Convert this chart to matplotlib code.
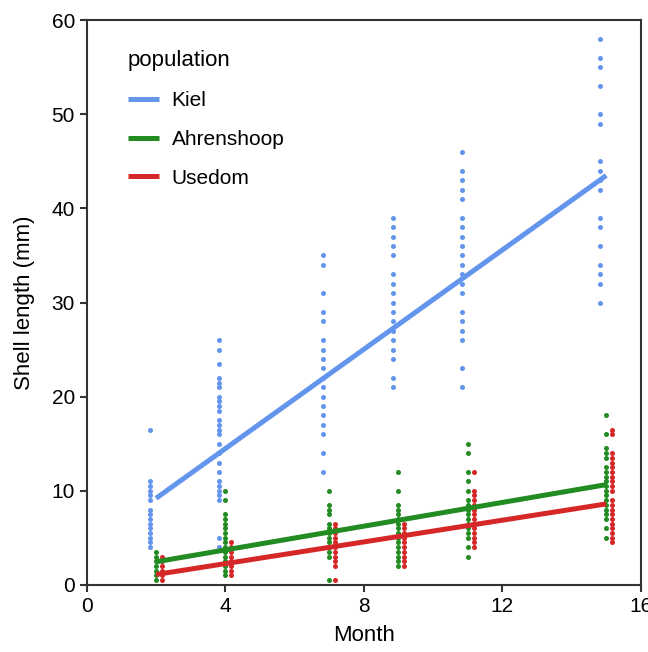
import numpy as np
import matplotlib
matplotlib.use('Agg')
import matplotlib.pyplot as plt

plt.rcParams['font.family'] = ['Liberation Sans', 'DejaVu Sans']

# Shell lengths (mm) per population and month
months = [2, 4, 7, 9, 11, 15]

kiel = {
    2: [16.5, 11, 10.5, 10, 9.5, 9, 8, 7.5, 7, 6.5, 6, 5.5, 5, 4.5, 4],
    4: [26, 25, 23.5, 22, 21.5, 21, 20, 19.5, 19, 18.5, 17.5, 17, 16.5, 16,
        15, 14, 13, 12, 11, 10.5, 10, 9.5, 9, 5, 4],
    7: [35, 34, 31, 29, 28, 26, 25, 24, 23, 22, 21, 20, 19, 18, 17, 16, 14, 12],
    9: [39, 38, 37, 36, 35, 33, 32, 31, 30, 29, 28, 27, 26, 25, 24, 22, 21],
    11: [46, 44, 43, 42, 41, 39, 38, 37, 36, 35, 34, 33, 32, 31, 29, 28, 27,
         26, 23, 21],
    15: [58, 56, 55, 53, 50, 49, 45, 44, 43, 42, 39, 38, 36, 34, 33, 32, 30],
}

ahrenshoop = {
    2: [3.5, 3, 2.5, 2, 1.5, 1, 0.5],
    4: [10, 9, 7.5, 7, 6.5, 6, 5.5, 5, 4.5, 4, 3.5, 3, 2.5, 2, 1.5, 1],
    7: [10, 8.5, 8, 7.5, 6.5, 6, 5.5, 5, 4.5, 4, 3.5, 3, 0.5],
    9: [12, 10, 8.5, 8, 7.5, 7, 6.5, 6, 5.5, 5, 4.5, 4, 3.5, 3, 2.5, 2],
    11: [15, 14, 12, 11, 10, 9, 8.5, 8, 7.5, 7, 6.5, 6, 5.5, 5, 4, 3],
    15: [18, 16, 14.5, 14, 13.5, 12.5, 12, 11.5, 11, 10.5, 10, 9.5, 9, 8.5,
         8, 7.5, 7, 6, 5],
}

usedom = {
    2: [3, 2.5, 2, 1.5, 1, 0.5],
    4: [4.5, 4, 3.5, 3, 2.5, 2, 1.5, 1],
    7: [6.5, 6, 5.5, 5, 4.5, 4, 3.5, 3, 2.5, 2, 0.5],
    9: [6.5, 6, 5.5, 5, 4.5, 4, 3.5, 3, 2.5, 2],
    11: [12, 10, 9.5, 9, 8.5, 8, 7.5, 7, 6.5, 6, 5.5, 5, 4.5, 4],
    15: [16.5, 16, 14, 13.5, 13, 12.5, 12, 11.5, 11, 10.5, 10, 9, 8.5, 8,
         7.5, 7, 6.5, 6, 5.5, 5, 4.5],
}

# fitted trend lines: length at month 2 and month 15
fit_start = [9.2, 2.45, 1.1]
fit_end = [43.5, 10.65, 8.6]

populations = ['Kiel', 'Ahrenshoop', 'Usedom']
data = [kiel, ahrenshoop, usedom]
colors = ['#6495ED', '#228B22', '#D62728']
dodge = [-0.17, 0.0, 0.17]

fig = plt.figure(figsize=(6.48, 6.52), dpi=100)
ax = fig.add_axes([0.134, 0.103, 0.855, 0.866])

for name, d, c, off in zip(populations, data, colors, dodge):
    xs, ys = [], []
    for m in months:
        xs += [m] * len(d[m])
        ys += d[m]
    xs = np.array(xs, dtype=float)
    ax.scatter(xs + off, ys, s=13, color=c, linewidths=0, zorder=2)

for name, c, y0, y1 in zip(populations, colors, fit_start, fit_end):
    ax.plot([months[0], months[-1]], [y0, y1], color=c, lw=3.6, label=name,
            zorder=3, solid_capstyle='butt')

ax.set_xlim(0, 16)
ax.set_ylim(0, 60)
ax.set_xticks([0, 4, 8, 12, 16])
ax.set_yticks([0, 10, 20, 30, 40, 50, 60])
ax.tick_params(labelsize=15, width=1.5, length=5, color='#333333')
for sp in ax.spines.values():
    sp.set_color('#333333')
    sp.set_linewidth(1.5)
ax.set_xlabel('Month', fontsize=16, labelpad=7)
ax.set_ylabel('Shell length (mm)', fontsize=16, labelpad=12)

leg = ax.legend(title='population', loc='upper left', frameon=False,
                fontsize=15, title_fontsize=16, handlelength=1.5,
                handletextpad=0.6, bbox_to_anchor=(0.04, 0.98),
                labelspacing=0.95)
leg._legend_box.align = 'left'

fig.savefig('out.png', dpi=100)
